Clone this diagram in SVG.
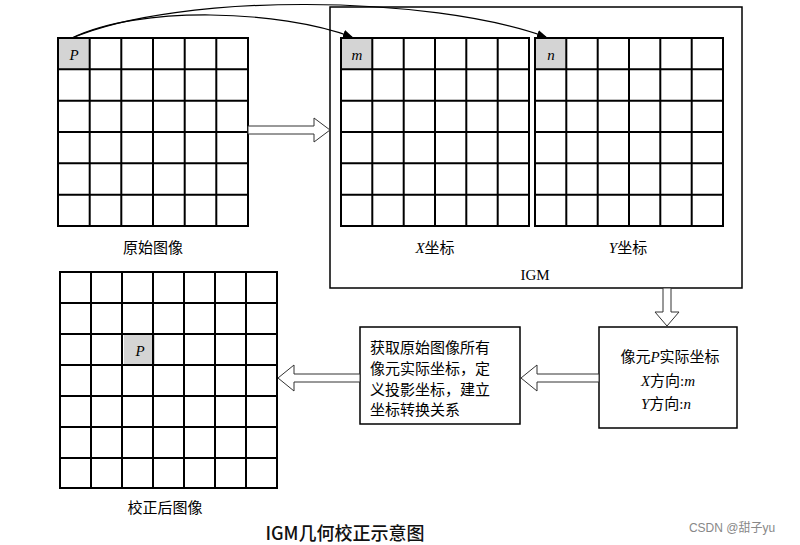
<svg xmlns="http://www.w3.org/2000/svg" width="800" height="545" viewBox="0 0 800 545">
<defs>
<style>
.g{stroke:#000;stroke-width:2;fill:none}
.t{font-family:"Liberation Serif","Noto Sans CJK SC",serif;font-size:15px;fill:#000}
.i{font-style:italic}
.b{fill:#fff;stroke:#000;stroke-width:1.5}
.h{fill:#fff;stroke:#333;stroke-width:1}
.l{stroke:#000;stroke-width:2;fill:none}
</style>
<marker id="ar" markerWidth="10" markerHeight="8" refX="9" refY="4" orient="auto" markerUnits="userSpaceOnUse"><path d="M0 0L10 4L0 8z" fill="#000"/></marker>
</defs>
<rect width="800" height="545" fill="#fff"/>
<g id="original">
<rect x="58" y="38" width="31.67" height="31.3" fill="#d4d4d4"/>
<path class="l" d="M89.7 38V226M121.3 38V226M153 38V226M184.7 38V226M216.3 38V226M58 69.3H248M58 100.7H248M58 132H248M58 163.3H248M58 194.7H248"/>
<rect x="58" y="38" width="190" height="188" class="g"/>
<text x="74" y="60" class="t i" text-anchor="middle">P</text>
<text x="153" y="253" class="t" text-anchor="middle">原始图像</text>
</g>
<g id="igm">
<rect x="330" y="7" width="412" height="281" class="b"/>
<text x="535" y="280" class="t" text-anchor="middle">IGM</text>
</g>
<g id="xgrid">
<rect x="341" y="38" width="31.33" height="31.3" fill="#d4d4d4"/>
<path class="l" d="M372.3 38V226M403.7 38V226M435 38V226M466.3 38V226M497.7 38V226M341 69.3H529M341 100.7H529M341 132H529M341 163.3H529M341 194.7H529"/>
<rect x="341" y="38" width="188" height="188" class="g"/>
<text x="357" y="60" class="t i" text-anchor="middle">m</text>
<text x="435" y="253" class="t" text-anchor="middle"><tspan class="i">X</tspan>坐标</text>
</g>
<g id="ygrid">
<rect x="535" y="38" width="31.33" height="31.3" fill="#d4d4d4"/>
<path class="l" d="M566.3 38V226M597.7 38V226M629 38V226M660.3 38V226M691.7 38V226M535 69.3H723M535 100.7H723M535 132H723M535 163.3H723M535 194.7H723"/>
<rect x="535" y="38" width="188" height="188" class="g"/>
<text x="551" y="60" class="t i" text-anchor="middle">n</text>
<text x="628" y="253" class="t" text-anchor="middle"><tspan class="i">Y</tspan>坐标</text>
</g>
<g id="corrected">
<rect x="124" y="334" width="31" height="31" fill="#d4d4d4"/>
<path class="l" d="M91 272V488M122 272V488M153 272V488M184 272V488M215 272V488M246 272V488M60 303H277M60 334H277M60 365H277M60 396H277M60 427H277M60 458H277"/>
<rect x="60" y="272" width="217" height="216" class="g"/>
<text x="140" y="356" class="t i" text-anchor="middle">P</text>
<text x="165" y="513" class="t" text-anchor="middle">校正后图像</text>
</g>
<g id="process">
<rect x="360" y="327" width="160" height="97" class="b"/>
<text class="t" font-size="15"><tspan x="370" y="353">获取原始图像所有</tspan><tspan x="370" y="374">像元实际坐标，定</tspan><tspan x="370" y="395">义投影坐标，建立</tspan><tspan x="370" y="415">坐标转换关系</tspan></text>
</g>
<g id="pixel">
<rect x="599" y="327" width="138" height="101" class="b"/>
<text x="670" y="362" class="t" text-anchor="middle">像元<tspan class="i">P</tspan>实际坐标</text>
<text x="668" y="386" class="t" text-anchor="middle"><tspan class="i">X</tspan>方向:<tspan class="i">m</tspan></text>
<text x="666" y="409" class="t" text-anchor="middle"><tspan class="i">Y</tspan>方向:<tspan class="i">n</tspan></text>
</g>
<g id="connectors">
<path d="M72 38C140 5 280 10 352 37" fill="none" stroke="#000" stroke-width="1.2" marker-end="url(#ar)"/>
<path d="M72 38C180 -8 430 -5 546 37" fill="none" stroke="#000" stroke-width="1.2" marker-end="url(#ar)"/>
<path class="h" d="M248 126H314V118L330 130L314 142V134H248Z"/>
<path class="h" d="M663 288V312H655L667 326L679 312H671V288Z"/>
<path class="h" d="M599 374H537V365L521 378L537 391V382H599Z"/>
<path class="h" d="M360 374H294V365L278 378L294 391V382H360Z"/>
</g>
<text x="345" y="540" font-family="'Noto Sans CJK SC',sans-serif" font-size="18" font-weight="500" text-anchor="middle" fill="#111">IGM几何校正示意图</text>
<text x="732" y="532" font-family="'Liberation Sans','Noto Sans CJK SC',sans-serif" font-size="12" text-anchor="middle" fill="#888">CSDN @甜子yu</text>
</svg>
